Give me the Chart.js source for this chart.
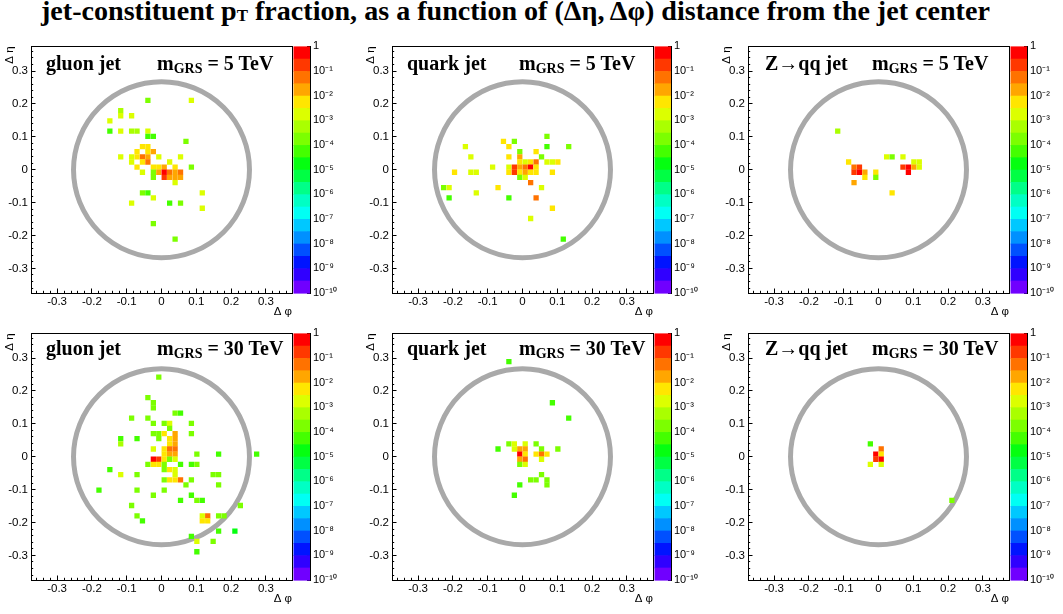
<!DOCTYPE html>
<html><head><meta charset="utf-8">
<script src="https://cdn.jsdelivr.net/npm/chart.js@4.4.1/dist/chart.umd.min.js"></script>
<style>
html,body{margin:0;padding:0;background:#fff;}
body{width:1063px;height:614px;position:relative;overflow:hidden;}
canvas{position:absolute;}
.t{position:absolute;font-family:'Liberation Serif','Times New Roman',serif;font-weight:bold;color:#000;white-space:nowrap;line-height:1;}
#title{left:41px;top:1px;font-size:23px;}
#title .sub{font-size:0.6em;position:relative;top:0.05em;}
.lab{font-size:20px;}
.lab .sub{font-size:14px;position:relative;top:3px;}
</style></head>
<body>
<div id="title" class="t">jet-constituent p<span class="sub">T</span> fraction, as a function of (Δη, Δφ) distance from the jet center</div>
<canvas id="c1" width="346" height="292" style="left:0px;top:32px"></canvas>
<canvas id="c2" width="346" height="292" style="left:361px;top:32px"></canvas>
<canvas id="c3" width="346" height="292" style="left:717px;top:32px"></canvas>
<canvas id="c4" width="346" height="292" style="left:0px;top:319px"></canvas>
<canvas id="c5" width="346" height="292" style="left:361px;top:319px"></canvas>
<canvas id="c6" width="346" height="292" style="left:717px;top:319px"></canvas>
<div class="t lab" style="left:46px;top:53px">gluon jet</div>
<div class="t lab" style="left:157px;top:53px">m<span class="sub">GRS</span> = 5 TeV</div>
<div class="t lab" style="left:407px;top:53px">quark jet</div>
<div class="t lab" style="left:519px;top:53px">m<span class="sub">GRS</span> = 5 TeV</div>
<div class="t lab" style="left:765px;top:53px">Z→qq jet</div>
<div class="t lab" style="left:872px;top:53px">m<span class="sub">GRS</span> = 5 TeV</div>
<div class="t lab" style="left:46px;top:338px">gluon jet</div>
<div class="t lab" style="left:157px;top:338px">m<span class="sub">GRS</span> = 30 TeV</div>
<div class="t lab" style="left:407px;top:338px">quark jet</div>
<div class="t lab" style="left:519px;top:338px">m<span class="sub">GRS</span> = 30 TeV</div>
<div class="t lab" style="left:765px;top:338px">Z→qq jet</div>
<div class="t lab" style="left:872px;top:338px">m<span class="sub">GRS</span> = 30 TeV</div>
<script>
// ---- data: [Δφ bin centre, Δη bin centre, pT fraction] ----
const gluon5TeV = [
 [-0.0391, 0.2109, 2e-4], [0.0859, 0.2109, 2e-3],
 [-0.1172, 0.1797, 5e-4],
 [-0.1172, 0.1641, 2e-3], [-0.0859, 0.1641, 2e-3],
 [-0.1484, 0.1484, 2e-3],
 [-0.1484, 0.1172, 5e-5], [-0.1172, 0.1172, 2e-3], [-0.0859, 0.1172, 5e-4], [-0.0703, 0.1172, 5e-4], [-0.0391, 0.1172, 2e-3],
 [-0.0391, 0.1016, 5e-5], [-0.0234, 0.1016, 5e-5],
 [0.0703, 0.0859, 2e-4],
 [-0.0547, 0.0703, 5e-3], [-0.0391, 0.0703, 5e-3],
 [-0.0703, 0.0547, 5e-3], [-0.0391, 0.0547, 5e-3], [-0.0234, 0.0547, 2e-2],
 [-0.1172, 0.0391, 2e-3], [-0.0859, 0.0391, 2e-3], [-0.0703, 0.0391, 5e-3], [-0.0547, 0.0391, 5e-2], [-0.0391, 0.0391, 2e-2], [-0.0078, 0.0391, 2e-3], [0.0547, 0.0391, 2e-3],
 [-0.0859, 0.0234, 2e-3], [-0.0547, 0.0234, 5e-3], [-0.0391, 0.0234, 5e-2], [0.0234, 0.0234, 2e-3],
 [-0.0703, 0.0078, 5e-3], [-0.0234, 0.0078, 5e-3], [-0.0078, 0.0078, 5e-3], [0.0078, 0.0078, 2e-2], [0.0391, 0.0078, 5e-3], [0.0859, 0.0078, 2e-4],
 [-0.0547, -0.0078, 2e-3], [-0.0234, -0.0078, 2e-4], [-0.0078, -0.0078, 2e-2], [0.0078, -0.0078, 0.5], [0.0234, -0.0078, 5e-2], [0.0391, -0.0078, 2e-2], [0.0547, -0.0078, 5e-2],
 [-0.0234, -0.0234, 2e-4], [0.0078, -0.0234, 0.2], [0.0234, -0.0234, 2e-2], [0.0391, -0.0234, 2e-2], [0.0547, -0.0234, 2e-2],
 [0.0391, -0.0391, 2e-3],
 [-0.0547, -0.0703, 2e-4], [-0.0391, -0.0703, 5e-5], [0.1172, -0.0703, 2e-3],
 [-0.0234, -0.0859, 2e-3],
 [-0.0859, -0.1016, 2e-3], [0.0234, -0.1016, 5e-5], [0.0547, -0.1016, 2e-4],
 [0.1172, -0.1172, 2e-3],
 [-0.0234, -0.1641, 2e-4],
 [0.0391, -0.2109, 2e-4]
];
const quark5TeV = [
 [0.0703, 0.1016, 2e-4],
 [-0.0547, 0.0859, 5e-3], [-0.0234, 0.0859, 2e-4],
 [-0.1641, 0.0703, 2e-3], [-0.0391, 0.0703, 5e-3], [0.0703, 0.0703, 5e-5], [0.1328, 0.0703, 2e-4],
 [-0.0078, 0.0547, 2e-4], [0.0391, 0.0547, 5e-3],
 [-0.1484, 0.0391, 2e-3], [-0.0391, 0.0391, 5e-3], [-0.0078, 0.0391, 2e-2], [0.0547, 0.0391, 2e-4],
 [-0.0078, 0.0234, 5e-3], [0.0078, 0.0234, 2e-3], [0.0234, 0.0234, 5e-3], [0.0391, 0.0234, 5e-2], [0.0703, 0.0234, 2e-3], [0.0859, 0.0234, 2e-3], [0.1016, 0.0234, 5e-3],
 [-0.0859, 0.0078, 2e-3], [-0.0391, 0.0078, 2e-3], [-0.0234, 0.0078, 0.2], [-0.0078, 0.0078, 2e-2], [0.0078, 0.0078, 5e-2], [0.0234, 0.0078, 0.5], [0.0391, 0.0078, 5e-3],
 [-0.1953, -0.0078, 5e-3], [-0.1484, -0.0078, 2e-3], [-0.1328, -0.0078, 2e-3], [-0.0391, -0.0078, 5e-3], [-0.0234, -0.0078, 0.2], [-0.0078, -0.0078, 5e-3], [0.0078, -0.0078, 2e-2], [0.0234, -0.0078, 5e-3], [0.0391, -0.0078, 5e-3], [0.0859, -0.0078, 5e-3],
 [-0.0078, -0.0234, 2e-4], [0.0078, -0.0234, 2e-3],
 [0.0234, -0.0391, 5e-2],
 [-0.2266, -0.0547, 2e-4], [-0.2109, -0.0547, 2e-3], [-0.0703, -0.0547, 5e-3], [0.0547, -0.0547, 2e-3],
 [-0.1328, -0.0703, 2e-3],
 [-0.2109, -0.0859, 5e-5], [-0.0391, -0.0859, 5e-5], [0.0391, -0.0859, 5e-2],
 [0.0859, -0.1172, 5e-3],
 [0.0234, -0.1484, 2e-3],
 [0.1172, -0.2109, 5e-5]
];
const zqq5TeV = [
 [-0.1172, 0.1172, 5e-4],
 [0.0234, 0.0391, 2e-3], [0.0391, 0.0391, 2e-4], [0.0703, 0.0391, 2e-3],
 [-0.0859, 0.0234, 5e-3], [0.1016, 0.0234, 2e-3], [0.1172, 0.0234, 2e-3],
 [-0.0703, 0.0078, 5e-2], [-0.0547, 0.0078, 0.2], [0.0703, 0.0078, 0.2], [0.0859, 0.0078, 0.5], [0.1016, 0.0078, 2e-2], [0.1172, 0.0078, 2e-3],
 [-0.0703, -0.0078, 0.2], [-0.0547, -0.0078, 0.5], [-0.0391, -0.0078, 2e-2], [-0.0078, -0.0078, 5e-3], [0.0859, -0.0078, 0.5],
 [-0.0391, -0.0234, 5e-3], [-0.0078, -0.0234, 2e-4],
 [-0.0703, -0.0391, 2e-2],
 [0.0391, -0.0703, 5e-3]
];
const gluon30TeV = [
 [-0.0078, 0.2422, 2e-4],
 [-0.0391, 0.1797, 2e-4],
 [-0.0234, 0.1641, 2e-4],
 [-0.0234, 0.1484, 2e-4],
 [0.0391, 0.1328, 2e-4], [0.0547, 0.1328, 5e-5],
 [-0.0859, 0.1172, 2e-4], [-0.0391, 0.1172, 2e-4],
 [-0.0234, 0.1016, 2e-4], [0.0078, 0.1016, 2e-4], [0.0234, 0.1016, 2e-3], [0.0859, 0.1016, 2e-4],
 [0.0234, 0.0859, 2e-4],
 [-0.0234, 0.0703, 2e-4], [-0.0078, 0.0703, 2e-4], [0.0078, 0.0703, 5e-3], [0.0391, 0.0703, 2e-2], [0.0859, 0.0703, 2e-4],
 [-0.1172, 0.0547, 5e-5], [-0.0703, 0.0547, 5e-5], [-0.0078, 0.0547, 2e-4], [0.0234, 0.0547, 5e-3], [0.0391, 0.0547, 2e-2],
 [-0.1172, 0.0391, 5e-4], [0.0234, 0.0391, 5e-3], [0.0391, 0.0391, 2e-2],
 [-0.0234, 0.0234, 2e-3], [0.0078, 0.0234, 5e-3], [0.0234, 0.0234, 5e-2], [0.0391, 0.0234, 5e-2],
 [0.0078, 0.0078, 5e-3], [0.0234, 0.0078, 2e-2], [0.0391, 0.0078, 2e-2], [0.1016, 0.0078, 2e-4], [0.1641, 0.0078, 5e-5], [0.2734, 0.0078, 5e-5],
 [-0.0234, -0.0078, 0.5], [-0.0078, -0.0078, 0.2], [0.0078, -0.0078, 5e-3], [0.0234, -0.0078, 2e-4], [0.0391, -0.0078, 2e-3],
 [-0.0391, -0.0234, 2e-4], [-0.0234, -0.0234, 5e-3], [-0.0078, -0.0234, 5e-3], [0.0078, -0.0234, 2e-4], [0.0547, -0.0234, 5e-5], [0.0859, -0.0234, 5e-5], [0.1016, -0.0234, 2e-4],
 [-0.1484, -0.0391, 5e-5], [0.0078, -0.0391, 2e-4], [0.0234, -0.0391, 5e-3], [0.0391, -0.0391, 2e-3],
 [-0.1172, -0.0547, 2e-3], [-0.0703, -0.0547, 2e-4], [0.0391, -0.0547, 2e-3], [0.1484, -0.0547, 2e-4], [0.1641, -0.0547, 2e-4],
 [0.0078, -0.0703, 2e-4], [0.0234, -0.0703, 5e-3], [0.0391, -0.0703, 5e-3], [0.0547, -0.0703, 5e-2], [0.0859, -0.0703, 2e-4],
 [0.0703, -0.0859, 2e-4], [0.1641, -0.0859, 2e-4],
 [-0.1797, -0.1016, 5e-5], [-0.0703, -0.1016, 2e-4], [0.0078, -0.1016, 2e-4],
 [-0.0234, -0.1172, 2e-4], [0.0859, -0.1172, 5e-5],
 [0.0547, -0.1328, 5e-5], [0.1016, -0.1328, 2e-4], [0.1172, -0.1328, 5e-5],
 [-0.0859, -0.1484, 2e-4], [0.2266, -0.1484, 2e-4],
 [-0.0703, -0.1797, 2e-4], [0.1172, -0.1797, 2e-3], [0.1328, -0.1797, 5e-2], [0.1641, -0.1797, 2e-4], [0.1797, -0.1797, 2e-4],
 [-0.0547, -0.1953, 5e-5], [0.1172, -0.1953, 5e-3], [0.1328, -0.1953, 5e-3],
 [0.1641, -0.2266, 5e-5], [0.2109, -0.2266, 2e-5],
 [0.0859, -0.2422, 5e-5],
 [0.1016, -0.2578, 2e-3], [0.1484, -0.2578, 2e-4],
 [0.1016, -0.2891, 5e-5]
];
const quark30TeV = [
 [-0.0391, 0.2891, 5e-5],
 [0.0859, 0.1641, 5e-5],
 [0.1328, 0.1172, 5e-5],
 [-0.0391, 0.0391, 2e-4], [-0.0234, 0.0391, 2e-3], [0.0078, 0.0391, 2e-3], [0.0391, 0.0391, 2e-4],
 [-0.0703, 0.0234, 5e-5], [-0.0234, 0.0234, 2e-3], [-0.0078, 0.0234, 2e-2], [0.0078, 0.0234, 2e-2], [0.0547, 0.0234, 2e-4], [0.1016, 0.0234, 2e-4],
 [-0.0078, 0.0078, 0.5], [0.0078, 0.0078, 5e-3], [0.0391, 0.0078, 5e-3], [0.0547, 0.0078, 5e-2], [0.0703, 0.0078, 5e-3],
 [-0.0078, -0.0078, 2e-2], [0.0078, -0.0078, 5e-2], [0.0547, -0.0078, 2e-3],
 [-0.0078, -0.0234, 2e-4], [0.0078, -0.0234, 2e-3],
 [0.0547, -0.0547, 2e-4],
 [0.0234, -0.0703, 2e-4], [0.0391, -0.0703, 2e-4], [0.0703, -0.0703, 2e-4],
 [-0.0078, -0.0859, 5e-5], [0.0703, -0.0859, 2e-4],
 [-0.0234, -0.1172, 5e-5]
];
const zqq30TeV = [
 [-0.0234, 0.0391, 5e-5],
 [0.0078, 0.0234, 5e-2],
 [-0.0078, 0.0078, 0.5], [0.0078, 0.0078, 5e-3],
 [-0.0078, -0.0078, 0.2], [0.0078, -0.0078, 0.5],
 [-0.0234, -0.0234, 2e-3], [0.0078, -0.0234, 2e-3],
 [0.2109, -0.1328, 2e-4]
];
// ---- axes / palette ----
const axisTicks = [-0.3, -0.2, -0.1, 0, 0.1, 0.2, 0.3];
const axisTickLabels = ['-0.3', '-0.2', '-0.1', '0', '0.1', '0.2', '0.3'];
const zDecades = [1, 1e-1, 1e-2, 1e-3, 1e-4, 1e-5, 1e-6, 1e-7, 1e-8, 1e-9, 1e-10];
const zTickLabels = ['1', '10⁻¹', '10⁻²', '10⁻³', '10⁻⁴', '10⁻⁵', '10⁻⁶', '10⁻⁷', '10⁻⁸', '10⁻⁹', '10⁻¹⁰'];
const paletteColors = ['#ff0000', '#ff3800', '#ff7200', '#ffa600', '#ffe600', '#dcff00', '#aaff00', '#7cff00', '#44ff00', '#05ff10',
  '#00ff44', '#00ff88', '#00ffc4', '#00fff4', '#00c8ff', '#0090ff', '#0050ff', '#0014ff', '#3000ff', '#7000ff'];
const BIN = 0.015625, RANGE = 0.375, CONE_R = 0.26;

const zTickValues = [];
zDecades.forEach((d, i) => { zTickValues.push(d); if (i < zDecades.length - 1) for (let m = 9; m >= 2; m--) zTickValues.push(d / 10 * m); });

function bandOf(v) { const i = Math.floor(-Math.log10(v) * 2 + 1e-9); return Math.min(paletteColors.length - 1, Math.max(0, i)); }
function cellRadius(chart) {
  const s = chart.scales;
  if (!s.x || !s.y) return 3;
  const w = Math.abs(s.x.getPixelForValue(BIN) - s.x.getPixelForValue(0));
  const h = Math.abs(s.y.getPixelForValue(BIN) - s.y.getPixelForValue(0));
  return (w + h) / 2 / Math.SQRT2;
}
const sansFont = {family: "'Liberation Sans', Arial, Helvetica, sans-serif", size: 11.5};

const panelPlugin = {
  id: 'panelDecor',
  beforeDatasetsDraw(chart) {
    const {ctx, chartArea: a, scales: {x, y}} = chart;
    ctx.save();
    ctx.beginPath(); ctx.rect(a.left, a.top, a.width, a.height); ctx.clip();
    const cx = x.getPixelForValue(0), cy = y.getPixelForValue(0);
    const rx = Math.abs(x.getPixelForValue(CONE_R) - cx), ry = Math.abs(y.getPixelForValue(CONE_R) - cy);
    ctx.beginPath(); ctx.arc(cx, cy, (rx + ry) / 2, 0, 2 * Math.PI);
    ctx.lineWidth = 5; ctx.strokeStyle = '#a9a9a9'; ctx.stroke();
    ctx.restore();
  },
  afterDatasetsDraw(chart) {
    const {ctx, chartArea: a, scales: {cb, z}} = chart;
    ctx.save();
    const x0 = cb.left + 1.5, x1 = cb.right;
    for (let i = 0; i < paletteColors.length; i++) {
      const yt = z.getPixelForValue(Math.pow(10, -i / 2));
      const yb = z.getPixelForValue(Math.pow(10, -(i + 1) / 2));
      ctx.fillStyle = paletteColors[i];
      ctx.fillRect(x0, yt, x1 - x0, yb - yt + 0.6);
    }
    ctx.strokeStyle = '#000'; ctx.lineWidth = 1;
    ctx.strokeRect(Math.round(a.left) + 0.5, Math.round(a.top) + 0.5, Math.round(a.width), Math.round(a.height));
    ctx.restore();
  }
};

function linAxis(pos, weight, major) {
  const horiz = pos === 'bottom';
  const o = {
    type: 'linear', position: pos, weight, min: -RANGE, max: RANGE,
    grid: {display: true, drawOnChartArea: false, drawTicks: true, tickLength: major ? -4.5 : -2.2, tickColor: '#000', tickWidth: 1},
    border: {display: false}
  };
  if (major) {
    o.afterBuildTicks = s => { s.ticks = axisTicks.map(v => ({value: v})); };
    o.ticks = {autoSkip: false, maxRotation: 0, padding: horiz ? 6 : 7.5, color: '#000', font: sansFont,
               callback: (v, i) => axisTickLabels[i]};
    o.afterFit = s => { if (horiz) s.height = 31; else s.width = 31; };
    o.title = horiz
      ? {display: true, text: 'Δ φ', align: 'end', color: '#000', font: sansFont, padding: {top: 0, bottom: 5}}
      : {display: true, text: 'Δ η', align: 'end', color: '#000', font: sansFont, padding: {top: 3, bottom: 0}};
  } else {
    o.ticks = {display: false, stepSize: 0.02, includeBounds: false};
    o.afterFit = s => { if (horiz) s.height = 0; else s.width = 0; };
  }
  return o;
}

function makePanel(id, cells) {
  return new Chart(document.getElementById(id), {
    type: 'scatter',
    data: {datasets: [{
      data: cells.map(([x, y, v]) => ({x, y, v})),
      pointStyle: 'rect', borderWidth: 0, pointBorderWidth: 0,
      pointBackgroundColor: c => (c.raw ? paletteColors[bandOf(c.raw.v)] : '#000'),
      pointRadius: c => cellRadius(c.chart),
      pointHoverRadius: c => cellRadius(c.chart)
    }]},
    options: {
      responsive: false, animation: false, events: [],
      layout: {padding: {top: 10, left: 0, right: 0, bottom: 0}},
      plugins: {legend: {display: false}, tooltip: {enabled: false}},
      scales: {
        x: linAxis('bottom', 1, true),
        xm: linAxis('bottom', 0, false),
        y: linAxis('left', 1, true),
        ym: linAxis('left', 0, false),
        cb: {type: 'linear', position: 'right', weight: 0, min: 0, max: 1,
             ticks: {display: false}, grid: {display: false}, border: {display: false},
             afterFit: s => { s.width = 18; }},
        z: {type: 'logarithmic', position: 'right', weight: 1, min: 1e-10, max: 1, z: 1,
            afterBuildTicks: s => { s.ticks = zTickValues.map(v => ({value: v})); },
            afterFit: s => { s.width = 36; },
            ticks: {autoSkip: false, padding: 6, color: '#000', font: {family: sansFont.family, size: 11},
                    callback: v => { const i = zDecades.findIndex(d => Math.abs(Math.log10(d) - Math.log10(v)) < 1e-6); return i >= 0 ? zTickLabels[i] : ''; }},
            grid: {display: true, drawOnChartArea: false, drawTicks: true, tickLength: -3, tickColor: '#000', tickWidth: 1},
            border: {display: true, color: '#000', width: 1}}
      }
    },
    plugins: [panelPlugin]
  });
}

makePanel('c1', gluon5TeV);
makePanel('c2', quark5TeV);
makePanel('c3', zqq5TeV);
makePanel('c4', gluon30TeV);
makePanel('c5', quark30TeV);
makePanel('c6', zqq30TeV);

// fit title width to the reference span
(function () {
  const t = document.getElementById('title');
  const w = t.getBoundingClientRect().width;
  const fs = 23 * 949 / w;
  t.style.fontSize = fs + 'px';
  t.style.top = (20.5 - (fs * (1 - 1.107) / 2 + fs * 0.891)) + 'px';
})();
</script>
</body></html>
